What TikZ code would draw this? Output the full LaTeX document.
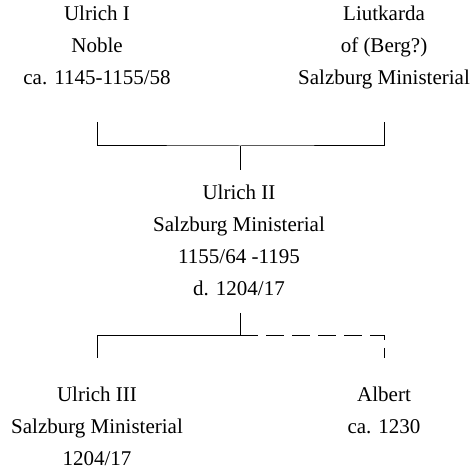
\documentclass[tikz,border=0pt]{standalone}
\usepackage{fontspec}
\setmainfont{Liberation Serif}
\usepackage{tikz}
\usetikzlibrary{positioning}
\tikzset{
    person/.style={align=center, anchor=base, inner sep=0pt,
        font=\fontsize{10.5pt}{16pt}\selectfont},
    line/.style={line width=0.5pt},
    uncertain/.style={line, dash pattern=on 9pt off 4pt}
}

\begin{document}
\begin{tikzpicture}[x=0.5pt,y=0.5pt]
        \useasboundingbox (0,0) rectangle (475,470);

        % first generation
        \node[person] (ulrichI) at (97,385) {Ulrich I\\Noble\\ca. 1145-1155/58};
        \node[person] (liutkarda) at (384,385) {Liutkarda\\of (Berg?)\\Salzburg Ministerial};

        % second generation
        \node[person] (ulrichII) at (239,174) {Ulrich II\\Salzburg Ministerial\\1155/64 -1195\\d. 1204/17};

        % third generation
        \node[person] (ulrichIII) at (97,5) {Ulrich III\\Salzburg Ministerial\\1204/17};
        \node[person] (albert) at (384,37) {Albert\\ca. 1230};

        % marriage bracket
        \coordinate (join1) at (240,324);
        \draw[line] (ulrichI |- 0,348) |- (join1) -| (liutkarda |- 0,348);
        \draw[line] (join1) -- (240,300);

        % children bracket
        \coordinate (join2) at (240,134);
        \draw[line] (240,157) -- (join2);
        \draw[line] (join2) -| (ulrichIII |- 0,112);
        \draw[uncertain] (join2) -| (albert |- 0,112);
\end{tikzpicture}
\end{document}
